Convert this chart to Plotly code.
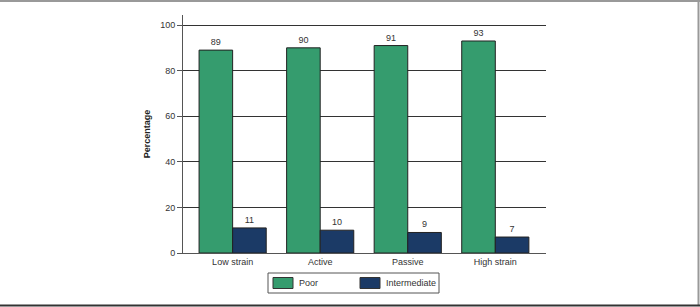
import plotly.graph_objects as go

categories = ["Low strain", "Active", "Passive", "High strain"]
poor = [89, 90, 91, 93]
intermediate = [11, 10, 9, 7]
series_names = ["Poor", "Intermediate"]
colors = ["#359c6e", "#1b3a66"]
y_ticks = [0, 20, 40, 60, 80, 100]

FONT = "Liberation Sans Narrow, Arial Narrow, Liberation Sans, Arial"
FS = 9
W, H = 700, 307

def px(x):
    return x / W

def py(y):
    return (H - y) / H

fig = go.Figure()
for name, vals, col in zip(series_names, [poor, intermediate], colors):
    fig.add_trace(go.Bar(
        x=categories, y=vals, name=name,
        marker=dict(color=col, line=dict(color="#222222", width=1)),
        text=[str(v) for v in vals], textposition="outside",
        textfont=dict(family=FONT, size=FS, color="#333333"),
        cliponaxis=False, showlegend=False,
    ))

shapes = []
annotations = []
# custom legend (box + swatches) below the plot
shapes.append(dict(type="rect", xref="paper", yref="paper",
                   x0=px(268), x1=px(439), y0=py(293), y1=py(273),
                   line=dict(color="#555555", width=1), fillcolor="white"))
for i, (name, col) in enumerate(zip(series_names, colors)):
    sx = 273 + i * 87
    shapes.append(dict(type="rect", xref="paper", yref="paper",
                       x0=px(sx), x1=px(sx + 20), y0=py(288.5), y1=py(277.5),
                       line=dict(color="#333333", width=1), fillcolor=col))
    annotations.append(dict(text=name, xref="paper", yref="paper",
                            x=px(sx + 24), y=py(283), xanchor="left", yanchor="middle",
                            showarrow=False,
                            font=dict(family=FONT, size=FS, color="#333333")))
# outer frame: top and right gray, bottom dark
shapes.append(dict(type="line", xref="paper", yref="paper", x0=0, x1=1, y0=py(1), y1=py(1),
                   line=dict(color="#999999", width=2)))
shapes.append(dict(type="line", xref="paper", yref="paper", x0=px(698.5), x1=px(698.5),
                   y0=py(0), y1=py(306), line=dict(color="#999999", width=2)))
shapes.append(dict(type="line", xref="paper", yref="paper", x0=0, x1=1, y0=py(305.5), y1=py(305.5),
                   line=dict(color="#333333", width=2)))

fig.update_layout(
    width=W, height=H,
    margin=dict(l=0, r=0, t=0, b=0, autoexpand=False),
    paper_bgcolor="white", plot_bgcolor="white",
    barmode="group", bargap=0.233, bargroupgap=0,
    font=dict(family=FONT, size=FS, color="#333333"),
    showlegend=False,
    xaxis=dict(
        domain=[px(183), px(546)],
        range=[-0.567, 3.579], showgrid=False, showline=True,
        linecolor="#555555", linewidth=1, ticks="", ticklen=0,
        tickfont=dict(family=FONT, size=FS, color="#333333"),
    ),
    yaxis=dict(
        domain=[py(253), py(15)],
        range=[0, 104.4], tickvals=y_ticks, showgrid=True,
        gridcolor="#333333", gridwidth=1, showline=True, linecolor="#555555",
        linewidth=1, ticks="outside", ticklen=5, tickcolor="#555555",
        tickfont=dict(family=FONT, size=FS, color="#333333"),
        zeroline=False,
        title=dict(text="<b>Percentage</b>", standoff=8,
                   font=dict(family=FONT, size=FS, color="#222222")),
    ),
    shapes=shapes,
    annotations=annotations,
)

fig.write_html("out.html")
